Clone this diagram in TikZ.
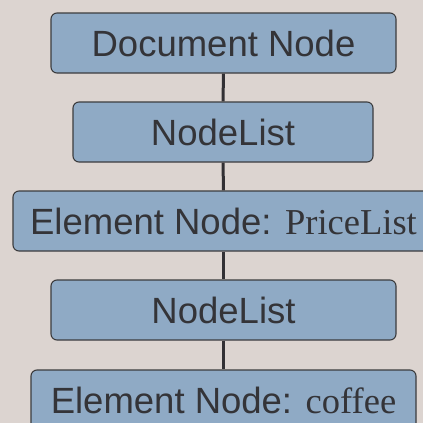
\documentclass[tikz,border=0pt]{standalone}
\usepackage{fontspec}
\setmainfont{Liberation Sans}
\newfontfamily\namefont{Liberation Serif}
\usepackage{tikz}
\usetikzlibrary{shapes}
\usetikzlibrary{calc,backgrounds}
\tikzstyle{Domnode}=[shape=rectangle,rounded corners=6pt,draw=boxline,line width=1.1pt,fill=boxblue,text=txtgray,minimum height=60pt,inner sep=0pt]
\tikzstyle{treeedge}=[-,line width=3pt,draw=linegray]
\definecolor{paper}{RGB}{220,212,208}
\definecolor{boxblue}{RGB}{143,170,197}
\definecolor{boxline}{RGB}{60,60,62}
\definecolor{txtgray}{RGB}{52,52,56}
\definecolor{linegray}{RGB}{50,48,52}
\begin{document}
\begin{tikzpicture}[x=1pt,y=-1pt]
 \fontsize{36.5}{40}\selectfont

 \fill[paper] (0,0) rectangle (423,423);
 \useasboundingbox (0,0) rectangle (423,423);

\node[Domnode,minimum width=345pt] (DOC) at (223.5,43){Document Node};
\node[Domnode,minimum width=300pt] (nl1) at (223,132){NodeList};
\node[Domnode,minimum width=421pt] (el1) at (223.5,221){Element Node: {\namefont PriceList}};
\node[Domnode,minimum width=345pt] (nl2) at (223.5,310){NodeList};
\node[Domnode,minimum width=385pt] (el2) at (223.5,400){Element Node: {\namefont coffee}};

\path
(DOC) edge [treeedge] (nl1)
(nl1) edge [treeedge] (el1)
(el1) edge [treeedge] (nl2)
(nl2) edge [treeedge] (el2);

\end{tikzpicture}
\end{document}
